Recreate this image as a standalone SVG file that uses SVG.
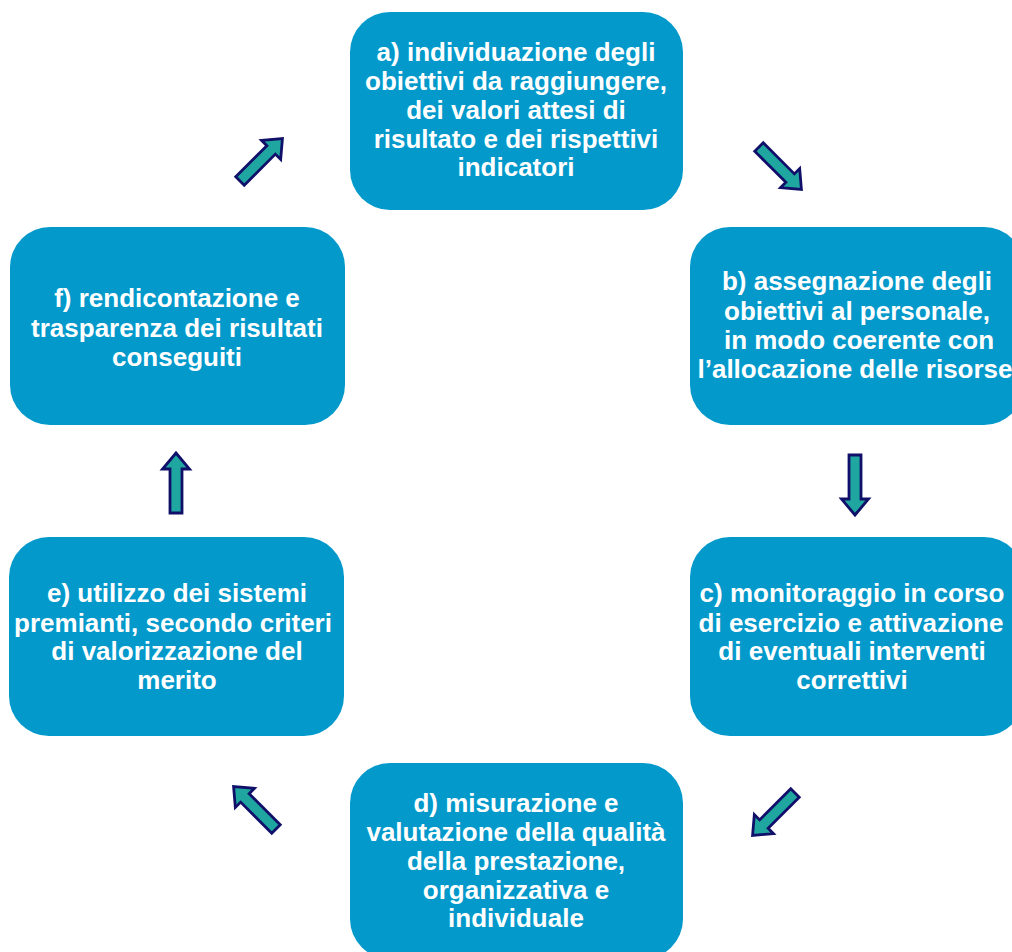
<svg xmlns="http://www.w3.org/2000/svg" xmlns:xlink="http://www.w3.org/1999/xlink" width="1012" height="952" viewBox="0 0 1012 952">
<style>
.box{fill:#0399CB;}
.t{font-family:"Liberation Sans",Arial,sans-serif;font-weight:bold;font-size:26px;fill:#FFFFFF;text-anchor:middle;}
.arr{fill:#20A6A0;stroke:#10106A;stroke-width:2.8;stroke-linejoin:miter;}
</style>
<defs>
<path id="arrow" d="M0,-6 H44 V-13.5 L60,0 L44,13.5 V6 H0 Z"/>
</defs>
<rect width="1012" height="952" fill="#FFFFFF"/>
<g id="node-a">
<rect class="box" x="350" y="12" width="333" height="198" rx="40"/>
<text class="t"><tspan x="516" y="61">a) individuazione degli</tspan><tspan x="516" y="90">obiettivi da raggiungere,</tspan><tspan x="516" y="119">dei valori attesi di</tspan><tspan x="516" y="148">risultato e dei rispettivi</tspan><tspan x="516" y="176">indicatori</tspan></text>
</g>
<g id="node-b">
<rect class="box" x="690" y="227" width="334" height="198" rx="40"/>
<text class="t"><tspan x="857" y="290">b) assegnazione degli</tspan><tspan x="857" y="320">obiettivi al personale,</tspan><tspan x="859" y="349">in modo coerente con</tspan><tspan x="855" y="378">l’allocazione delle risorse</tspan></text>
</g>
<g id="node-c">
<rect class="box" x="690" y="537" width="334" height="199" rx="40"/>
<text class="t"><tspan x="852" y="602">c) monitoraggio in corso</tspan><tspan x="851" y="632">di esercizio e attivazione</tspan><tspan x="852" y="660">di eventuali interventi</tspan><tspan x="852" y="689">correttivi</tspan></text>
</g>
<g id="node-d">
<rect class="box" x="350" y="763" width="333" height="196" rx="40"/>
<text class="t"><tspan x="516" y="812">d) misurazione e</tspan><tspan x="516" y="841">valutazione della qualità</tspan><tspan x="516" y="870">della prestazione,</tspan><tspan x="516" y="899">organizzativa e</tspan><tspan x="516" y="927">individuale</tspan></text>
</g>
<g id="node-e">
<rect class="box" x="9" y="537" width="335" height="199" rx="40"/>
<text class="t"><tspan x="177" y="602">e) utilizzo dei sistemi</tspan><tspan x="173" y="632">premianti, secondo criteri</tspan><tspan x="177" y="660">di valorizzazione del</tspan><tspan x="177" y="689">merito</tspan></text>
</g>
<g id="node-f">
<rect class="box" x="10" y="227" width="335" height="198" rx="40"/>
<text class="t"><tspan x="177" y="307">f) rendicontazione e</tspan><tspan x="177" y="337">trasparenza dei risultati</tspan><tspan x="177" y="366">conseguiti</tspan></text>
</g>
<g id="connectors">
<use class="arr" xlink:href="#arrow" href="#arrow" transform="translate(240,181) rotate(-45)"/>
<use class="arr" xlink:href="#arrow" href="#arrow" transform="translate(759,147) rotate(45)"/>
<use class="arr" xlink:href="#arrow" href="#arrow" transform="translate(855,455) rotate(90)"/>
<use class="arr" xlink:href="#arrow" href="#arrow" transform="translate(795,793) rotate(135)"/>
<use class="arr" xlink:href="#arrow" href="#arrow" transform="translate(276,829) rotate(-135)"/>
<use class="arr" xlink:href="#arrow" href="#arrow" transform="translate(176,513) rotate(-90)"/>
</g>
</svg>
